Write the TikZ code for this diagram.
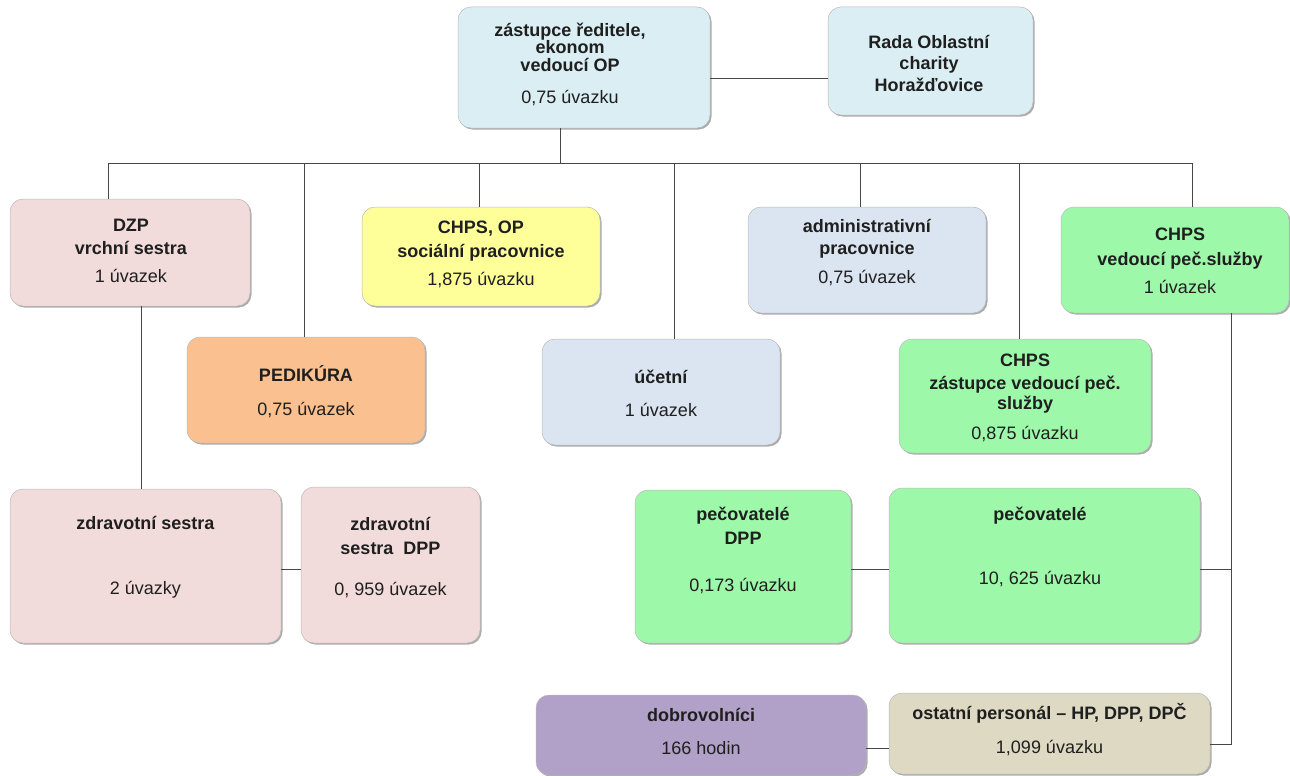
\documentclass[tikz,border=0pt]{standalone}
\usepackage{fontspec}
\setmainfont{Liberation Sans}
\usetikzlibrary{shadows}

\definecolor{ocblue}{HTML}{DAEEF3}
\definecolor{ocpink}{HTML}{F2DCDB}
\definecolor{ocyellow}{HTML}{FFFF99}
\definecolor{ocgrey}{HTML}{DBE5F1}
\definecolor{ocgreen}{HTML}{9EF8AA}
\definecolor{ocorange}{HTML}{FAC090}
\definecolor{ocviolet}{HTML}{B1A0C7}
\definecolor{octan}{HTML}{DDD9C3}

\tikzset{
  box/.style={rectangle, rounded corners=13pt, draw=black!28, line width=.5pt, inner sep=0pt,
    drop shadow={shadow xshift=1.5pt, shadow yshift=-1.5pt, opacity=.6, fill=black!55}},
  sz/.style 2 args={minimum width=#1pt, minimum height=#2pt},
  txt/.style={align=center, inner sep=0pt, text=black!88, font=\fontsize{18}{20}\selectfont},
  conn/.style={draw=black!72, line width=1pt}
}

\begin{document}
\begin{tikzpicture}[x=1pt, y=-1pt]
\useasboundingbox (0,0) rectangle (1290,776);

% boxes
\node[box, fill=ocblue, sz={252}{121}] (zast) at (584,67.5) {};
\node[box, fill=ocblue, sz={205}{108}] (rada) at (930.5,61) {};
\node[box, fill=ocpink, sz={240}{107}] (dzp) at (130,252.5) {};
\node[box, fill=ocyellow, sz={238}{99}] (socp) at (481,256.5) {};
\node[box, fill=ocgrey, sz={238}{106}] (admin) at (867,260) {};
\node[box, fill=ocgreen, sz={228}{106}] (vedps) at (1175,260) {};
\node[box, fill=ocorange, sz={238}{106}] (pedik) at (306,390) {};
\node[box, fill=ocgrey, sz={238}{106}] (ucet) at (661,392) {};
\node[box, fill=ocgreen, sz={252}{114}] (zastps) at (1025,396) {};
\node[box, fill=ocpink, sz={271}{154}] (zdsest) at (145.5,566) {};
\node[box, fill=ocpink, sz={179}{156}] (zddpp) at (390.5,565) {};
\node[box, fill=ocgreen, sz={216}{153}] (pecdpp) at (743,566.5) {};
\node[box, fill=ocgreen, sz={311}{155}] (pec) at (1044.5,565.5) {};
\node[box, fill=ocviolet, sz={330}{80}] (dobro) at (701,735) {};
\node[box, fill=octan, sz={321}{81}] (ostatni) at (1049.5,733.5) {};

% texts
\node[txt] (zast-t) at (570,64.5) {\textbf{zástupce ředitele,}\\[-3pt]\textbf{ekonom}\\[-2pt]\textbf{vedoucí OP}\\[12pt]0,75 úvazku};
\node[txt] (rada-t) at (929,63) {\textbf{Rada Oblastní}\\[1pt]\textbf{charity}\\[2pt]\textbf{Horažďovice}};
\node[txt] (dzp-t) at (131,251) {\textbf{DZP}\\[3pt]\textbf{vrchní sestra}\\[8pt]1 úvazek};
\node[txt] (socp-t) at (481,254) {\textbf{CHPS, OP}\\[4pt]\textbf{sociální pracovnice}\\[8pt]1,875 úvazku};
\node[txt] (admin-t) at (867,253) {\textbf{administrativní}\\[2pt]\textbf{pracovnice}\\[9pt]0,75 úvazek};
\node[txt] (vedps-t) at (1180,261) {\textbf{CHPS}\\[5pt]\textbf{vedoucí peč.služby}\\[8pt]1 úvazek};
\node[txt] (pedik-t) at (306,391.5) {\textbf{PEDIKÚRA}\\[14pt]0,75 úvazek};
\node[txt] (ucet-t) at (661,393) {\textbf{účetní}\\[13pt]1 úvazek};
\node[txt] (zastps-t) at (1025,397.5) {\textbf{CHPS}\\[3pt]\textbf{zástupce vedoucí peč.}\\[0pt]\textbf{služby}\\[10pt]0,875 úvazku};
\node[txt] (zdsest-t) at (145.5,557.5) {\textbf{zdravotní sestra}\\[45pt]2 úvazky};
\node[txt] (zddpp-t) at (390.5,557.5) {\textbf{zdravotní}\\[4pt]\textbf{sestra\ \ DPP}\\[21pt]0, 959 úvazek};
\node[txt] (pecdpp-t) at (743,550) {\textbf{pečovatelé}\\[4pt]\textbf{DPP}\\[27pt]0,173 úvazku};
\node[txt] (pec-t) at (1040,547) {\textbf{pečovatelé}\\[44pt]10, 625 úvazku};
\node[txt] (dobro-t) at (701,731.5) {\textbf{dobrovolníci}\\[13pt]166 hodin};
\node[txt] (ostatni-t) at (1049.5,729.5) {\textbf{ostatní personál – HP, DPP, DPČ}\\[14pt]1,099 úvazku};

% connectors
\coordinate (busL) at (108,163);
\coordinate (busR) at (1192,163);
\coordinate (trunk) at (1231,744);
\draw[conn] ([yshift=-10.5pt]zast.east) -- ([yshift=-10.5pt]zast.east -| rada.west);
\draw[conn] ([xshift=-24pt]zast.south) -- ([xshift=-24pt]zast.south |- busL);
\draw[conn] (busL) -- (busR);
\draw[conn] (busL) -- (busL |- dzp.north);
\draw[conn] ([xshift=-2pt]pedik.north) -- ([xshift=-2pt]pedik.north |- busL);
\draw[conn] ([xshift=-2pt]socp.north) -- ([xshift=-2pt]socp.north |- busL);
\draw[conn] ([xshift=13pt]ucet.north) -- ([xshift=13pt]ucet.north |- busL);
\draw[conn] ([xshift=-7pt]admin.north) -- ([xshift=-7pt]admin.north |- busL);
\draw[conn] ([xshift=-6pt]zastps.north) -- ([xshift=-6pt]zastps.north |- busL);
\draw[conn] (busR) -- (busR |- vedps.north);
\draw[conn] ([xshift=11pt]dzp.south) -- ([xshift=11pt]dzp.south |- zdsest.north);
\draw[conn] ([yshift=-3pt]zdsest.east) -- ([yshift=-3pt]zdsest.east -| zddpp.west);
\draw[conn] ([yshift=-2.5pt]pecdpp.east) -- ([yshift=-2.5pt]pecdpp.east -| pec.west);
\draw[conn] ([yshift=-3.5pt]pec.east) -- ([yshift=-3.5pt]pec.east -| trunk);
\draw[conn] (vedps.south -| trunk) -- (trunk) -- (trunk -| ostatni.east);
\draw[conn] ([yshift=-13pt]dobro.east) -- ([yshift=-13pt]dobro.east -| ostatni.west);
\end{tikzpicture}
\end{document}
